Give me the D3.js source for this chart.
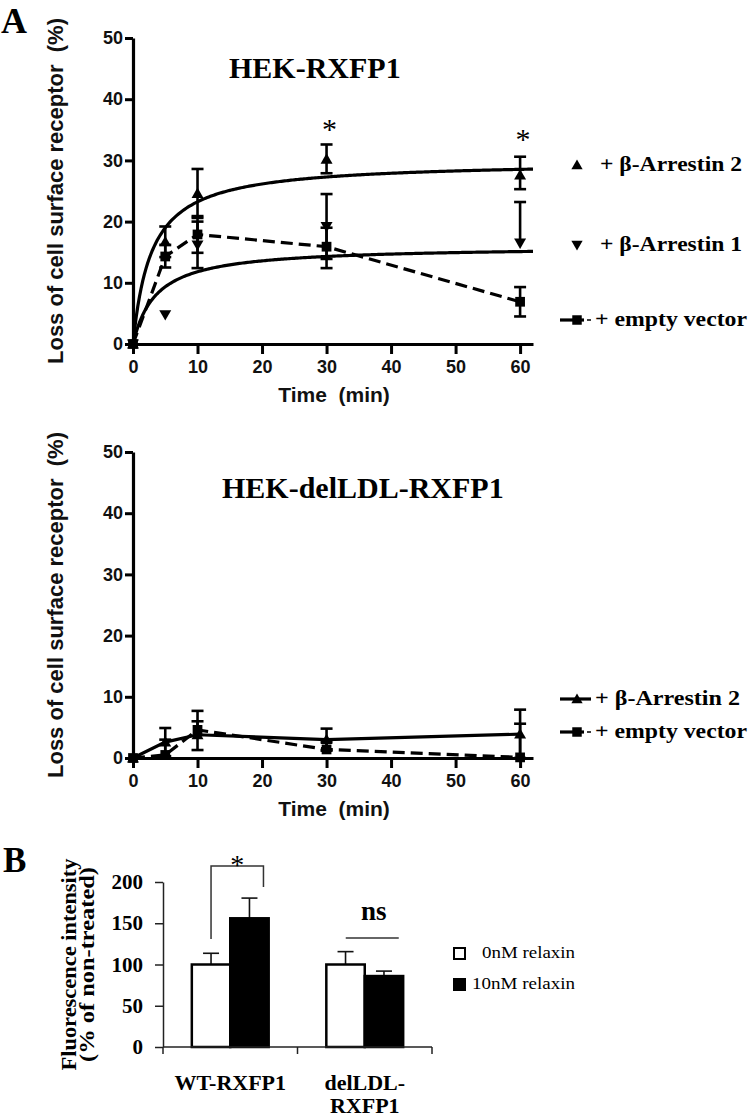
<!DOCTYPE html>
<html><head><meta charset="utf-8">
<script src="https://cdn.jsdelivr.net/npm/d3@7"></script>
<style>
html,body{margin:0;padding:0;background:#fff;}
svg{display:block;}
</style></head>
<body>
<svg id="chart" width="750" height="1120"></svg>
<script>
// ---------- DATA ----------
const times = [0, 5, 10, 30, 60];
const xTicks = [0, 10, 20, 30, 40, 50, 60];
const yTicksA = [0, 10, 20, 30, 40, 50];

// Panel A (HEK-RXFP1)
const arr2A   = [0, 16.7, 24.6, 30.2, 27.6];
const arr2AHi = [0, 19.2, 28.6, 32.6, 30.6];
const arr2ALo = [0, 14.2, 20.6, 27.9, 25.3];
const arr1A   = [0, 4.8, 16.2, 19.2, 16.5];
const arr1AHi = [0, 4.8, 20.0, 24.5, 23.2];
const arr1ALo = [0, 4.8, 12.4, 13.9, 16.5];
const emptyA   = [0, 14.3, 17.9, 15.9, 6.9];
const emptyAHi = [0, 16.2, 20.9, 19.0, 9.3];
const emptyALo = [0, 12.5, 14.9, 12.4, 4.5];
// one-site hyperbolic fits (Bmax, K) for beta-Arrestin 2 and beta-Arrestin 1
const fitBmax = [29.9, 16.0];
const fitK    = [2.87, 3.56];

// Panel A (HEK-delLDL-RXFP1)
const arr2B   = [0, 2.6, 3.8, 3.0, 3.9];
const arr2BHi = [0, 4.9, 7.7, 4.8, 7.9];
const arr2BLo = [0, 0.3, 1.3, 1.2, 0];
const emptyB   = [0, 0.5, 4.6, 1.4, 0.1];
const emptyBHi = [0, 3.0, 6.0, 2.6, 5.6];
const emptyBLo = [0, 0.5, 4.6, 1.4, 0.1];

// Panel B
const groups = ["WT-RXFP1", "delLDL-RXFP1"];
const conditions = ["0nM relaxin", "10nM relaxin"];
const fluor0   = [100, 100];
const fluor0Hi = [113.6, 115.6];
const fluor10   = [156, 86];
const fluor10Hi = [180.5, 92];
const yTicksB = [0, 50, 100, 150, 200];

// ---------- DRAW ----------
const svg = d3.select("#chart");
const SANS = "'Liberation Sans', Arial, sans-serif";
const SERIF = "'Liberation Serif', 'Times New Roman', serif";

svg.append("text").attr("x", 1).attr("y", 33).attr("font-family", SERIF)
  .attr("font-weight", "bold").attr("font-size", 36).text("A");
svg.append("text").attr("x", 3).attr("y", 872).attr("font-family", SERIF)
  .attr("font-weight", "bold").attr("font-size", 35).text("B");

function timePanel(opt) {
  const x = d3.scaleLinear().domain([0, 62]).range([133, 533]);
  const y = d3.scaleLinear().domain([0, 50]).range([opt.y0, opt.y0 - 306]);
  const g = svg.append("g");

  // axes
  const ax = g.append("g").attr("transform", `translate(0,${opt.y0})`)
    .call(d3.axisBottom(x).tickValues(xTicks).tickSize(10).tickSizeOuter(0).tickPadding(6).tickFormat(d3.format("d")));
  const ay = g.append("g").attr("transform", `translate(133,0)`)
    .call(d3.axisLeft(y).tickValues(yTicksA).tickSize(8).tickSizeOuter(0).tickPadding(2).tickFormat(d3.format("d")));
  [ax, ay].forEach(a => {
    a.select(".domain").attr("stroke", "#000").attr("stroke-width", 3.2);
    a.selectAll(".tick line").attr("stroke", "#000").attr("stroke-width", 3);
    a.selectAll(".tick text").attr("font-family", SANS).attr("font-weight", "bold")
      .attr("font-size", 18).attr("fill", "#111");
  });

  // axis titles
  g.append("text").attr("transform", `translate(63,${(y(0) + y(50)) / 2}) rotate(-90)`)
    .attr("text-anchor", "middle").attr("font-family", SANS).attr("font-weight", "bold")
    .attr("font-size", 22).attr("fill", "#111").attr("xml:space", "preserve")
    .text("Loss of cell surface receptor  (%)");
  g.append("text").attr("x", 334).attr("y", opt.y0 + 58).attr("text-anchor", "middle")
    .attr("font-family", SANS).attr("font-weight", "bold").attr("font-size", 21)
    .attr("fill", "#111").attr("xml:space", "preserve").text("Time  (min)");

  // title
  g.append("text").attr("x", opt.titleX).attr("y", opt.titleY).attr("font-family", SERIF)
    .attr("font-weight", "bold").attr("font-size", 30).text(opt.title);

  // error bars
  const capW = 12;
  opt.series.forEach(s => {
    times.forEach((t, i) => {
      const hi = s.hi[i], lo = s.lo[i];
      if (hi - lo < 0.05) return;
      const eg = g.append("g").attr("stroke", "#000").attr("stroke-width", 2.6);
      eg.append("line").attr("x1", x(t)).attr("x2", x(t)).attr("y1", y(hi)).attr("y2", y(lo));
      if (hi > s.v[i] + 0.05)
        eg.append("line").attr("x1", x(t) - capW / 2).attr("x2", x(t) + capW / 2).attr("y1", y(hi)).attr("y2", y(hi));
      if (lo < s.v[i] - 0.05)
        eg.append("line").attr("x1", x(t) - capW / 2).attr("x2", x(t) + capW / 2).attr("y1", y(lo)).attr("y2", y(lo));
    });
  });

  // lines
  opt.series.forEach(s => {
    let pts;
    if (s.fit) {
      pts = d3.range(0, 62.001, 0.25).map(t => [t, s.fit[0] * t / (s.fit[1] + t)]);
    } else if (s.connect) {
      pts = times.map((t, i) => [t, s.v[i]]);
    }
    if (pts) {
      g.append("path").attr("d", d3.line().x(d => x(d[0])).y(d => y(d[1])).curve(d3.curveLinear)(pts))
        .attr("fill", "none").attr("stroke", "#000").attr("stroke-width", 3.2)
        .attr("stroke-dasharray", s.dash ? "12,6" : null);
    }
  });

  // markers
  opt.series.forEach(s => {
    times.forEach((t, i) => {
      const p = g.append("path").attr("fill", "#000");
      if (s.marker === "up") p.attr("d", d3.symbol().type(d3.symbolTriangle).size(62)())
        .attr("transform", `translate(${x(t)},${y(s.v[i]) + 1})`);
      else if (s.marker === "down") p.attr("d", d3.symbol().type(d3.symbolTriangle).size(62)())
        .attr("transform", `translate(${x(t)},${y(s.v[i]) - 1}) rotate(180)`);
      else p.attr("d", d3.symbol().type(d3.symbolSquare).size(95)())
        .attr("transform", `translate(${x(t)},${y(s.v[i])})`);
    });
  });

  // stars
  (opt.stars || []).forEach(s => {
    g.append("text").attr("x", x(s.t) + 3).attr("y", opt.y0 - s.dy + 14)
      .attr("text-anchor", "middle").attr("font-family", SERIF).attr("font-size", 30).text("*");
  });

  // legend
  opt.legend.forEach(l => {
    if (l.line) {
      g.append("line").attr("x1", 560).attr("x2", 584).attr("y1", l.y).attr("y2", l.y)
        .attr("stroke", "#000").attr("stroke-width", 3.2);
      g.append("line").attr("x1", l.dash ? 587 : 584).attr("x2", 591).attr("y1", l.y).attr("y2", l.y)
        .attr("stroke", "#000").attr("stroke-width", l.dash ? 1.5 : 3.2);
    }
    const p = g.append("path").attr("fill", "#000");
    if (l.marker === "up") p.attr("d", d3.symbol().type(d3.symbolTriangle).size(55)()).attr("transform", `translate(577,${l.y + 1})`);
    else if (l.marker === "down") p.attr("d", d3.symbol().type(d3.symbolTriangle).size(55)()).attr("transform", `translate(577,${l.y - 1}) rotate(180)`);
    else p.attr("d", d3.symbol().type(d3.symbolSquare).size(90)()).attr("transform", `translate(577,${l.y})`);
    g.append("text").attr("x", l.tx).attr("y", l.y + 6).attr("font-family", SERIF)
      .attr("font-weight", "bold").attr("font-size", 20)
      .attr("textLength", l.len).attr("lengthAdjust", "spacingAndGlyphs").text(l.text);
  });
}

timePanel({
  y0: 344, title: "HEK-RXFP1", titleX: 229, titleY: 78,
  series: [
    { v: arr2A, hi: arr2AHi, lo: arr2ALo, marker: "up", fit: [fitBmax[0], fitK[0]] },
    { v: arr1A, hi: arr1AHi, lo: arr1ALo, marker: "down", fit: [fitBmax[1], fitK[1]] },
    { v: emptyA, hi: emptyAHi, lo: emptyALo, marker: "square", connect: true, dash: true }
  ],
  stars: [{ t: 30, dy: 219 }, { t: 60, dy: 209 }],
  legend: [
    { y: 165, marker: "up", text: "+ β-Arrestin 2", tx: 600, len: 142 },
    { y: 245, marker: "down", text: "+ β-Arrestin 1", tx: 600, len: 142 },
    { y: 320, marker: "square", line: true, dash: true, text: "+ empty vector", tx: 595, len: 152 }
  ]
});

timePanel({
  y0: 758, title: "HEK-delLDL-RXFP1", titleX: 222, titleY: 498,
  series: [
    { v: arr2B, hi: arr2BHi, lo: arr2BLo, marker: "up", connect: true },
    { v: emptyB, hi: emptyBHi, lo: emptyBLo, marker: "square", connect: true, dash: true }
  ],
  legend: [
    { y: 699, marker: "up", line: true, text: "+ β-Arrestin 2", tx: 595, len: 145 },
    { y: 732, marker: "square", line: true, dash: true, text: "+ empty vector", tx: 595, len: 152 }
  ]
});

// ---------- Panel B ----------
(function () {
  const y = d3.scaleLinear().domain([0, 200]).range([1047, 882]);
  const gx = d3.scaleBand().domain(groups).range([163, 432]).padding(0);
  const cx = d3.scaleBand().domain(conditions).range([0, gx.bandwidth()]).paddingInner(0).paddingOuter(0.75);
  const g = svg.append("g");

  // bars
  const vals = [fluor0, fluor10], his = [fluor0Hi, fluor10Hi];
  groups.forEach((grp, gi) => {
    conditions.forEach((c, ci) => {
      const bx = gx(grp) + cx(c), bw = cx.bandwidth();
      const v = vals[ci][gi], h = his[ci][gi];
      g.append("line").attr("x1", bx + bw / 2).attr("x2", bx + bw / 2).attr("y1", y(v)).attr("y2", y(h))
        .attr("stroke", "#111").attr("stroke-width", 1.6);
      g.append("line").attr("x1", bx + bw / 2 - 8).attr("x2", bx + bw / 2 + 8).attr("y1", y(h)).attr("y2", y(h))
        .attr("stroke", "#111").attr("stroke-width", 1.6);
      g.append("rect").attr("x", bx).attr("y", y(v)).attr("width", bw).attr("height", y(0) - y(v))
        .attr("fill", ci === 0 ? "#fff" : "#000").attr("stroke", "#000").attr("stroke-width", 2.5);
    });
  });

  // axes
  const ay = g.append("g").attr("transform", "translate(163,0)")
    .call(d3.axisLeft(y).tickValues(yTicksB).tickSize(8).tickSizeOuter(0).tickPadding(12));
  ay.select(".domain").attr("stroke", "#222").attr("stroke-width", 1.5);
  ay.selectAll(".tick line").attr("stroke", "#222").attr("stroke-width", 1.5);
  ay.selectAll(".tick text").attr("font-family", SERIF).attr("font-weight", "bold").attr("font-size", 21).attr("fill", "#000");

  g.append("line").attr("x1", 163).attr("x2", 432).attr("y1", y(0)).attr("y2", y(0))
    .attr("stroke", "#222").attr("stroke-width", 1.5);
  const bounds = [gx(groups[0]), gx(groups[1]), gx(groups[1]) + gx.bandwidth()];
  bounds.forEach(b => g.append("line").attr("x1", b).attr("x2", b).attr("y1", y(0)).attr("y2", y(0) + 7)
    .attr("stroke", "#222").attr("stroke-width", 1.5));

  // category labels
  g.append("text").attr("x", gx(groups[0]) + gx.bandwidth() / 2).attr("y", 1090).attr("text-anchor", "middle")
    .attr("font-family", SERIF).attr("font-weight", "bold").attr("font-size", 22).text(groups[0]);
  const dl = g.append("text").attr("text-anchor", "middle").attr("font-family", SERIF)
    .attr("font-weight", "bold").attr("font-size", 22);
  dl.append("tspan").attr("x", gx(groups[1]) + gx.bandwidth() / 2).attr("y", 1090).text("delLDL-");
  dl.append("tspan").attr("x", gx(groups[1]) + gx.bandwidth() / 2).attr("y", 1113).text("RXFP1");

  // y title
  const midY = (y(0) + y(200)) / 2;
  g.append("text").attr("transform", `translate(76,${midY}) rotate(-90)`)
    .attr("font-family", SERIF).attr("font-weight", "bold").attr("font-size", 21).attr("text-anchor", "middle")
    .attr("textLength", 212).attr("lengthAdjust", "spacingAndGlyphs")
    .text("Fluorescence intensity");
  g.append("text").attr("transform", `translate(94,${midY}) rotate(-90)`)
    .attr("font-family", SERIF).attr("font-weight", "bold").attr("font-size", 21).attr("text-anchor", "middle")
    .attr("textLength", 195).attr("lengthAdjust", "spacingAndGlyphs")
    .text("(% of non-treated)");

  // significance bracket
  const wtW = gx(groups[0]) + cx(conditions[0]) + cx.bandwidth() / 2;
  const wtB = gx(groups[0]) + cx(conditions[1]) + cx.bandwidth() / 2;
  g.append("path").attr("d", `M${wtW},939 V866 H${wtB + 14} V887`).attr("fill", "none")
    .attr("stroke", "#333").attr("stroke-width", 1.5);
  g.append("text").attr("x", (wtW + wtB + 14) / 2).attr("y", 874).attr("text-anchor", "middle")
    .attr("font-family", SERIF).attr("font-size", 28).text("*");
  const dlC = gx(groups[1]) + gx.bandwidth() / 2;
  g.append("line").attr("x1", dlC - 19).attr("x2", dlC + 34).attr("y1", 938).attr("y2", 938)
    .attr("stroke", "#333").attr("stroke-width", 1.5);
  g.append("text").attr("x", dlC + 9).attr("y", 920).attr("text-anchor", "middle")
    .attr("font-family", SERIF).attr("font-weight", "bold").attr("font-size", 27).text("ns");

  // legend
  conditions.forEach((c, i) => {
    const ly = 953 + i * 31;
    g.append("rect").attr("x", 454).attr("y", ly - 5).attr("width", 11).attr("height", 11)
      .attr("fill", i === 0 ? "#fff" : "#000").attr("stroke", "#000").attr("stroke-width", 2);
    g.append("text").attr("x", i === 0 ? 482 : 472).attr("y", ly + 5).attr("font-family", SERIF)
      .attr("font-size", 16).attr("textLength", i === 0 ? 93 : 103).attr("lengthAdjust", "spacingAndGlyphs").text(c);
  });
})();
</script>
</body></html>
